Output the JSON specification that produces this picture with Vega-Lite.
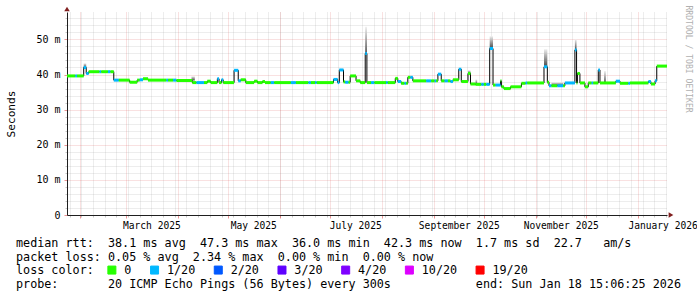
{
"$schema": "https://vega.github.io/schema/vega-lite/v6.json",
"width": 600, "height": 203,
"autosize": {"type": "none"},
"padding": {"left": 67, "top": 12, "right": 30, "bottom": 82},
"background": "#ffffff",
"config": {"view": {"stroke": null}, "font": "DejaVu Sans Mono"},
"datasets": {
"seg": [
{"s":"2025-01-24T12:00Z","e":"2025-01-29T12:00Z","v":39.6,"l":"0"},
{"s":"2025-01-29T12:00Z","e":"2025-01-30T12:00Z","v":39.6,"l":"1/20"},
{"s":"2025-01-30T12:00Z","e":"2025-02-03T12:00Z","v":39.6,"l":"0"},
{"s":"2025-02-03T12:00Z","e":"2025-02-05T00:00Z","v":42.0,"l":"1/20"},
{"s":"2025-02-05T00:00Z","e":"2025-02-06T12:00Z","v":40.3,"l":"1/20"},
{"s":"2025-02-06T12:00Z","e":"2025-02-13T00:00Z","v":40.8,"l":"0"},
{"s":"2025-02-13T00:00Z","e":"2025-02-14T00:00Z","v":40.8,"l":"1/20"},
{"s":"2025-02-14T00:00Z","e":"2025-02-18T00:00Z","v":40.8,"l":"0"},
{"s":"2025-02-18T00:00Z","e":"2025-02-19T12:00Z","v":40.8,"l":"1/20"},
{"s":"2025-02-19T12:00Z","e":"2025-02-21T12:00Z","v":40.8,"l":"0"},
{"s":"2025-02-21T12:00Z","e":"2025-02-24T12:00Z","v":38.4,"l":"1/20"},
{"s":"2025-02-24T12:00Z","e":"2025-03-03T00:00Z","v":38.4,"l":"0"},
{"s":"2025-03-03T00:00Z","e":"2025-03-07T12:00Z","v":37.8,"l":"0"},
{"s":"2025-03-07T12:00Z","e":"2025-03-09T00:00Z","v":38.4,"l":"0"},
{"s":"2025-03-09T00:00Z","e":"2025-03-11T00:00Z","v":38.5,"l":"1/20"},
{"s":"2025-03-11T00:00Z","e":"2025-03-14T00:00Z","v":38.8,"l":"0"},
{"s":"2025-03-14T00:00Z","e":"2025-03-25T00:00Z","v":38.4,"l":"0"},
{"s":"2025-03-25T00:00Z","e":"2025-03-26T00:00Z","v":38.4,"l":"1/20"},
{"s":"2025-03-26T00:00Z","e":"2025-03-29T00:00Z","v":38.4,"l":"0"},
{"s":"2025-03-29T00:00Z","e":"2025-03-31T00:00Z","v":38.4,"l":"1/20"},
{"s":"2025-03-31T00:00Z","e":"2025-04-09T12:00Z","v":38.3,"l":"0"},
{"s":"2025-04-09T12:00Z","e":"2025-04-12T00:00Z","v":37.7,"l":"0"},
{"s":"2025-04-12T00:00Z","e":"2025-04-16T12:00Z","v":37.7,"l":"1/20"},
{"s":"2025-04-16T12:00Z","e":"2025-04-18T12:00Z","v":37.7,"l":"0"},
{"s":"2025-04-18T12:00Z","e":"2025-04-20T12:00Z","v":38.1,"l":"0"},
{"s":"2025-04-20T12:00Z","e":"2025-04-24T12:00Z","v":37.7,"l":"0"},
{"s":"2025-04-24T12:00Z","e":"2025-04-25T12:00Z","v":38.8,"l":"1/20"},
{"s":"2025-04-25T12:00Z","e":"2025-04-27T00:00Z","v":37.7,"l":"0"},
{"s":"2025-04-27T00:00Z","e":"2025-04-28T00:00Z","v":38.5,"l":"1/20"},
{"s":"2025-04-28T00:00Z","e":"2025-05-04T12:00Z","v":37.7,"l":"0"},
{"s":"2025-05-04T12:00Z","e":"2025-05-07T00:00Z","v":41.2,"l":"1/20"},
{"s":"2025-05-07T00:00Z","e":"2025-05-08T12:00Z","v":38.2,"l":"1/20"},
{"s":"2025-05-08T12:00Z","e":"2025-05-11T12:00Z","v":38.5,"l":"0"},
{"s":"2025-05-11T12:00Z","e":"2025-05-16T12:00Z","v":37.7,"l":"0"},
{"s":"2025-05-16T12:00Z","e":"2025-05-18T12:00Z","v":38.1,"l":"0"},
{"s":"2025-05-18T12:00Z","e":"2025-05-21T12:00Z","v":37.7,"l":"0"},
{"s":"2025-05-21T12:00Z","e":"2025-05-23T00:00Z","v":38.0,"l":"0"},
{"s":"2025-05-23T00:00Z","e":"2025-05-26T12:00Z","v":37.7,"l":"0"},
{"s":"2025-05-26T12:00Z","e":"2025-05-28T12:00Z","v":37.7,"l":"1/20"},
{"s":"2025-05-28T12:00Z","e":"2025-06-07T12:00Z","v":37.7,"l":"0"},
{"s":"2025-06-07T12:00Z","e":"2025-06-10T12:00Z","v":37.7,"l":"1/20"},
{"s":"2025-06-10T12:00Z","e":"2025-06-18T00:00Z","v":37.7,"l":"0"},
{"s":"2025-06-18T00:00Z","e":"2025-06-19T12:00Z","v":37.7,"l":"1/20"},
{"s":"2025-06-19T12:00Z","e":"2025-06-22T00:00Z","v":37.7,"l":"0"},
{"s":"2025-06-22T00:00Z","e":"2025-06-23T00:00Z","v":37.7,"l":"1/20"},
{"s":"2025-06-23T00:00Z","e":"2025-07-03T00:00Z","v":37.7,"l":"0"},
{"s":"2025-07-03T00:00Z","e":"2025-07-05T12:00Z","v":38.6,"l":"1/20"},
{"s":"2025-07-05T12:00Z","e":"2025-07-06T12:00Z","v":37.7,"l":"1/20"},
{"s":"2025-07-06T12:00Z","e":"2025-07-09T00:00Z","v":41.3,"l":"1/20"},
{"s":"2025-07-09T00:00Z","e":"2025-07-10T00:00Z","v":37.9,"l":"0"},
{"s":"2025-07-10T00:00Z","e":"2025-07-12T00:00Z","v":37.8,"l":"1/20"},
{"s":"2025-07-12T00:00Z","e":"2025-07-13T00:00Z","v":37.8,"l":"0"},
{"s":"2025-07-13T00:00Z","e":"2025-07-16T12:00Z","v":39.6,"l":"0"},
{"s":"2025-07-16T12:00Z","e":"2025-07-19T00:00Z","v":38.2,"l":"0"},
{"s":"2025-07-19T00:00Z","e":"2025-07-22T00:00Z","v":37.7,"l":"0"},
{"s":"2025-07-22T00:00Z","e":"2025-07-23T00:00Z","v":46.0,"l":"1/20"},
{"s":"2025-07-23T00:00Z","e":"2025-07-25T12:00Z","v":37.7,"l":"0"},
{"s":"2025-07-25T12:00Z","e":"2025-07-27T12:00Z","v":37.7,"l":"1/20"},
{"s":"2025-07-27T12:00Z","e":"2025-08-03T12:00Z","v":37.7,"l":"0"},
{"s":"2025-08-03T12:00Z","e":"2025-08-04T12:00Z","v":37.7,"l":"1/20"},
{"s":"2025-08-04T12:00Z","e":"2025-08-09T00:00Z","v":37.7,"l":"0"},
{"s":"2025-08-09T00:00Z","e":"2025-08-10T12:00Z","v":38.9,"l":"0"},
{"s":"2025-08-10T12:00Z","e":"2025-08-12T12:00Z","v":38.0,"l":"1/20"},
{"s":"2025-08-12T12:00Z","e":"2025-08-14T12:00Z","v":37.5,"l":"0"},
{"s":"2025-08-14T12:00Z","e":"2025-08-15T12:00Z","v":37.5,"l":"1/20"},
{"s":"2025-08-15T12:00Z","e":"2025-08-16T12:00Z","v":37.5,"l":"0"},
{"s":"2025-08-16T12:00Z","e":"2025-08-18T00:00Z","v":39.2,"l":"0"},
{"s":"2025-08-18T00:00Z","e":"2025-08-19T12:00Z","v":39.2,"l":"1/20"},
{"s":"2025-08-19T12:00Z","e":"2025-08-27T12:00Z","v":38.2,"l":"0"},
{"s":"2025-08-27T12:00Z","e":"2025-08-30T12:00Z","v":38.2,"l":"1/20"},
{"s":"2025-08-30T12:00Z","e":"2025-09-01T12:00Z","v":38.2,"l":"0"},
{"s":"2025-09-01T12:00Z","e":"2025-09-02T12:00Z","v":38.2,"l":"1/20"},
{"s":"2025-09-02T12:00Z","e":"2025-09-03T12:00Z","v":38.2,"l":"0"},
{"s":"2025-09-03T12:00Z","e":"2025-09-05T12:00Z","v":40.1,"l":"1/20"},
{"s":"2025-09-05T12:00Z","e":"2025-09-07T12:00Z","v":38.2,"l":"0"},
{"s":"2025-09-07T12:00Z","e":"2025-09-09T12:00Z","v":38.2,"l":"1/20"},
{"s":"2025-09-09T12:00Z","e":"2025-09-11T00:00Z","v":38.2,"l":"0"},
{"s":"2025-09-11T00:00Z","e":"2025-09-12T12:00Z","v":38.0,"l":"1/20"},
{"s":"2025-09-12T12:00Z","e":"2025-09-16T00:00Z","v":38.5,"l":"0"},
{"s":"2025-09-16T00:00Z","e":"2025-09-17T12:00Z","v":41.5,"l":"1/20"},
{"s":"2025-09-17T12:00Z","e":"2025-09-21T12:00Z","v":38.0,"l":"0"},
{"s":"2025-09-21T12:00Z","e":"2025-09-23T00:00Z","v":40.3,"l":"0"},
{"s":"2025-09-23T00:00Z","e":"2025-09-26T00:00Z","v":37.3,"l":"0"},
{"s":"2025-09-26T00:00Z","e":"2025-09-29T12:00Z","v":37.2,"l":"0"},
{"s":"2025-09-29T12:00Z","e":"2025-10-01T00:00Z","v":37.2,"l":"1/20"},
{"s":"2025-10-01T00:00Z","e":"2025-10-02T12:00Z","v":37.2,"l":"0"},
{"s":"2025-10-02T12:00Z","e":"2025-10-04T12:00Z","v":37.2,"l":"1/20"},
{"s":"2025-10-04T12:00Z","e":"2025-10-06T12:00Z","v":47.4,"l":"1/20"},
{"s":"2025-10-06T12:00Z","e":"2025-10-08T00:00Z","v":37.0,"l":"0"},
{"s":"2025-10-08T00:00Z","e":"2025-10-11T00:00Z","v":37.0,"l":"1/20"},
{"s":"2025-10-11T00:00Z","e":"2025-10-11T12:00Z","v":38.2,"l":"0"},
{"s":"2025-10-11T12:00Z","e":"2025-10-13T00:00Z","v":36.5,"l":"0"},
{"s":"2025-10-13T00:00Z","e":"2025-10-17T00:00Z","v":36.0,"l":"0"},
{"s":"2025-10-17T00:00Z","e":"2025-10-23T12:00Z","v":36.5,"l":"0"},
{"s":"2025-10-23T12:00Z","e":"2025-10-26T00:00Z","v":37.5,"l":"0"},
{"s":"2025-10-26T00:00Z","e":"2025-10-27T00:00Z","v":37.6,"l":"1/20"},
{"s":"2025-10-27T00:00Z","e":"2025-11-06T00:00Z","v":37.6,"l":"0"},
{"s":"2025-11-06T00:00Z","e":"2025-11-08T00:00Z","v":42.2,"l":"1/20"},
{"s":"2025-11-08T00:00Z","e":"2025-11-09T00:00Z","v":37.8,"l":"0"},
{"s":"2025-11-09T00:00Z","e":"2025-11-10T12:00Z","v":36.8,"l":"1/20"},
{"s":"2025-11-10T12:00Z","e":"2025-11-14T00:00Z","v":36.8,"l":"0"},
{"s":"2025-11-14T00:00Z","e":"2025-11-17T12:00Z","v":36.8,"l":"1/20"},
{"s":"2025-11-17T12:00Z","e":"2025-11-18T12:00Z","v":36.8,"l":"0"},
{"s":"2025-11-18T12:00Z","e":"2025-11-24T12:00Z","v":37.6,"l":"1/20"},
{"s":"2025-11-24T12:00Z","e":"2025-11-25T12:00Z","v":47.0,"l":"1/20"},
{"s":"2025-11-25T12:00Z","e":"2025-11-26T00:00Z","v":37.6,"l":"0"},
{"s":"2025-11-26T00:00Z","e":"2025-11-27T12:00Z","v":40.3,"l":"0"},
{"s":"2025-11-27T12:00Z","e":"2025-11-30T12:00Z","v":37.6,"l":"0"},
{"s":"2025-11-30T12:00Z","e":"2025-12-02T12:00Z","v":36.5,"l":"0"},
{"s":"2025-12-02T12:00Z","e":"2025-12-04T12:00Z","v":37.6,"l":"0"},
{"s":"2025-12-04T12:00Z","e":"2025-12-05T12:00Z","v":37.6,"l":"1/20"},
{"s":"2025-12-05T12:00Z","e":"2025-12-08T12:00Z","v":37.6,"l":"0"},
{"s":"2025-12-08T12:00Z","e":"2025-12-09T12:00Z","v":41.3,"l":"1/20"},
{"s":"2025-12-09T12:00Z","e":"2025-12-19T00:00Z","v":37.6,"l":"0"},
{"s":"2025-12-19T00:00Z","e":"2025-12-21T12:00Z","v":38.1,"l":"1/20"},
{"s":"2025-12-21T12:00Z","e":"2025-12-26T12:00Z","v":37.5,"l":"0"},
{"s":"2025-12-26T12:00Z","e":"2025-12-27T12:00Z","v":37.5,"l":"1/20"},
{"s":"2025-12-27T12:00Z","e":"2026-01-07T12:00Z","v":37.6,"l":"0"},
{"s":"2026-01-07T12:00Z","e":"2026-01-09T00:00Z","v":38.0,"l":"1/20"},
{"s":"2026-01-09T00:00Z","e":"2026-01-11T12:00Z","v":37.3,"l":"0"},
{"s":"2026-01-11T12:00Z","e":"2026-01-12T12:00Z","v":38.2,"l":"1/20"},
{"s":"2026-01-12T12:00Z","e":"2026-01-18T15:06Z","v":42.4,"l":"0"}
],
"smoke": [
{"s":"2025-02-03T12:00Z","e":"2025-02-05T00:00Z","lo":42.0,"hi":43.2},
{"s":"2025-04-09T00:00Z","e":"2025-04-11T00:00Z","lo":38.3,"hi":39.5},
{"s":"2025-07-22T00:00Z","e":"2025-07-23T00:00Z","lo":46.0,"hi":53.6},
{"s":"2025-09-21T12:00Z","e":"2025-09-23T00:00Z","lo":40.3,"hi":41.2},
{"s":"2025-09-26T00:00Z","e":"2025-09-27T00:00Z","lo":37.3,"hi":38.6},
{"s":"2025-10-04T12:00Z","e":"2025-10-06T12:00Z","lo":47.4,"hi":50.9},
{"s":"2025-11-06T00:00Z","e":"2025-11-08T00:00Z","lo":42.2,"hi":47.2},
{"s":"2025-11-10T12:00Z","e":"2025-11-17T12:00Z","lo":36.8,"hi":37.8},
{"s":"2025-11-24T12:00Z","e":"2025-11-25T12:00Z","lo":47.0,"hi":50.0},
{"s":"2025-12-12T00:00Z","e":"2025-12-13T00:00Z","lo":37.6,"hi":41.0}
]
},
"title": {
"text": [
"median rtt:\u00a0\u00a038.1\u00a0ms\u00a0avg\u00a0\u00a047.3\u00a0ms\u00a0max\u00a0\u00a036.0\u00a0ms\u00a0min\u00a0\u00a042.3\u00a0ms\u00a0now\u00a0\u00a01.7\u00a0ms\u00a0sd\u00a0\u00a022.7\u00a0\u00a0\u00a0am/s",
"packet\u00a0loss:\u00a00.05\u00a0%\u00a0avg\u00a0\u00a02.34\u00a0%\u00a0max\u00a0\u00a00.00\u00a0%\u00a0min\u00a0\u00a00.00\u00a0%\u00a0now",
"loss\u00a0color:",
"probe:\u00a0\u00a0\u00a0\u00a0\u00a0\u00a0\u00a020\u00a0ICMP\u00a0Echo\u00a0Pings\u00a0(56\u00a0Bytes)\u00a0every\u00a0300s\u00a0\u00a0\u00a0\u00a0\u00a0\u00a0\u00a0\u00a0\u00a0\u00a0\u00a0\u00a0end:\u00a0Sun\u00a0Jan\u00a018\u00a015:06:25\u00a02026"
],
"orient": "bottom", "anchor": "start", "frame": "group", "dx": -51, "dy": -49, "offset": 10,
"font": "DejaVu Sans Mono", "fontSize": 11.75, "fontWeight": "normal", "color": "#000000",
"lineHeight": 13.7, "baseline": "top"
},
"layer": [
{
"data": {"name": "smoke"},
"mark": {"type": "rect", "fill": {"gradient": "linear", "x1": 0, "y1": 1, "x2": 0, "y2": 0, "stops": [{"offset": 0, "color": "#444444"}, {"offset": 1, "color": "#eeeeee"}]}},
"encoding": {
"x": {"field": "s", "type": "temporal",
"scale": {"type": "utc", "domain": [{"year": 2025, "month": 1, "date": 24, "hours": 12, "utc": true}, {"year": 2026, "month": 1, "date": 18, "hours": 15, "minutes": 6, "utc": true}]},
"axis": {"orient": "bottom", "tickCount": {"interval": "week", "step": 1}, "grid": true, "gridColor": "#8f8f8f", "gridOpacity": 0.32, "gridDash": [1, 1], "labels": false, "ticks": true, "tickSize": 2, "tickColor": "#8f8f8f", "tickOpacity": 0.5, "domain": false, "title": null}},
"x2": {"field": "e"},
"y": {"field": "lo", "type": "quantitative",
"scale": {"domain": [0, 57.8], "nice": false, "zero": true},
"axis": {"orient": "left", "values": [2,4,6,8,12,14,16,18,22,24,26,28,32,34,36,38,42,44,46,48,52,54,56], "grid": true, "gridColor": "#8f8f8f", "gridOpacity": 0.32, "gridDash": [1, 1], "labels": false, "ticks": true, "tickSize": 2, "tickColor": "#8f8f8f", "tickOpacity": 0.5, "domain": false, "title": null}},
"y2": {"field": "hi"}
}
},
{
"data": {"name": "seg"},
"mark": {"type": "line", "interpolate": "step-after", "color": "#000000", "strokeWidth": 1},
"encoding": {
"x": {"field": "s", "type": "temporal",
"scale": {"type": "utc", "domain": [{"year": 2025, "month": 1, "date": 24, "hours": 12, "utc": true}, {"year": 2026, "month": 1, "date": 18, "hours": 15, "minutes": 6, "utc": true}]},
"axis": {"orient": "bottom", "tickCount": {"interval": "month", "step": 1}, "grid": true, "gridColor": "#de4f4f", "gridOpacity": 0.35, "gridDash": [1, 1], "labels": false, "ticks": true, "tickSize": 3, "tickColor": "#de4f4f", "tickOpacity": 0.6, "domain": false, "title": null}},
"y": {"field": "v", "type": "quantitative",
"scale": {"domain": [0, 57.8], "nice": false, "zero": true},
"axis": {"orient": "left", "values": [0, 10, 20, 30, 40, 50], "grid": true, "gridColor": "#de4f4f", "gridOpacity": 0.35, "gridDash": [1, 1], "ticks": true, "tickSize": 3, "tickColor": "#de4f4f", "tickOpacity": 0.6, "labelPadding": 4, "labelFont": "DejaVu Sans Mono", "labelFontSize": 10, "labelColor": "#000000",
"labelExpr": "datum.value == 0 ? '0\u00a0\u00a0' : datum.value + '\u00a0m'",
"domain": true, "domainColor": "#1f1f1f",
"title": "Seconds", "titleFont": "DejaVu Sans Mono", "titleFontSize": 11.2, "titleFontWeight": "normal", "titleColor": "#000000", "titleX": -56, "titleY": 101.5, "titleAngle": -90, "titleBaseline": "middle", "titleAlign": "center"}}
}
},
{
"data": {"name": "seg"},
"mark": {"type": "rule", "strokeWidth": 3, "strokeCap": "butt"},
"encoding": {
"x": {"field": "s", "type": "temporal",
"scale": {"type": "utc", "domain": [{"year": 2025, "month": 1, "date": 24, "hours": 12, "utc": true}, {"year": 2026, "month": 1, "date": 18, "hours": 15, "minutes": 6, "utc": true}]},
"axis": {"orient": "bottom", "values": [{"year": 2025, "month": 3, "date": 16, "utc": true}, {"year": 2025, "month": 5, "date": 16, "utc": true}, {"year": 2025, "month": 7, "date": 16, "utc": true}, {"year": 2025, "month": 9, "date": 16, "utc": true}, {"year": 2025, "month": 11, "date": 16, "utc": true}, {"year": 2026, "month": 1, "date": 16, "utc": true}],
"labelExpr": "utcFormat(datum.value, '%B %Y')", "grid": false, "ticks": false, "labelPadding": 5, "labelFont": "DejaVu Sans Mono", "labelFontSize": 9.6, "labelColor": "#000000", "labelFlush": false, "labelOverlap": false, "domain": true, "domainColor": "#1f1f1f", "title": null}},
"x2": {"field": "e"},
"y": {"field": "v", "type": "quantitative",
"scale": {"domain": [0, 57.8], "nice": false, "zero": true},
"axis": {"orient": "right", "labels": false, "ticks": false, "domain": false, "grid": false, "title": "RRDTOOL / TOBI OETIKER", "titleFont": "DejaVu Sans Mono", "titleFontSize": 8.1, "titleFontWeight": "normal", "titleColor": "#b0b0b0", "titleAngle": 90, "titleAlign": "left", "titleBaseline": "alphabetic", "titleX": 18, "titleY": -7}},
"color": {"field": "l", "type": "nominal",
"scale": {"domain": ["0", "1/20", "2/20", "3/20", "4/20", "10/20", "19/20"], "range": ["#26ff00", "#00b8ff", "#0059ff", "#5e00ff", "#7e00ff", "#dd00ff", "#ff0000"]},
"legend": {"orient": "none", "legendX": 39, "legendY": 252, "direction": "horizontal", "columns": 7, "title": null, "symbolType": "square", "symbolSize": 64, "symbolStrokeWidth": 1, "symbolStrokeColor": "#000000", "labelFont": "DejaVu Sans Mono", "labelFontSize": 11.75, "labelColor": "#000000", "labelOffset": 6.5, "columnPadding": 15.7, "padding": 0,
"encode": {"symbols": {"update": {"fill": {"scale": "color", "field": "value"}, "stroke": {"value": "#000000"}, "opacity": {"value": 1}}}}}}
}
},
{
"data": {"values": [{}]},
"mark": {"type": "point", "shape": "triangle-up", "filled": true, "color": "#801f1f", "size": 30, "opacity": 1, "yOffset": -3},
"encoding": {
"x": {"datum": {"year": 2025, "month": 1, "date": 24, "hours": 12, "utc": true}, "type": "temporal", "axis": null},
"y": {"datum": 57.8, "type": "quantitative", "axis": null}
}
},
{
"data": {"values": [{}]},
"mark": {"type": "point", "shape": "triangle-right", "filled": true, "color": "#801f1f", "size": 30, "opacity": 1, "xOffset": 4},
"encoding": {
"x": {"datum": {"year": 2026, "month": 1, "date": 18, "hours": 15, "minutes": 6, "utc": true}, "type": "temporal", "axis": null},
"y": {"datum": 0, "type": "quantitative", "axis": null}
}
}
],
"resolve": {"axis": {"x": "independent", "y": "independent"}}
}
